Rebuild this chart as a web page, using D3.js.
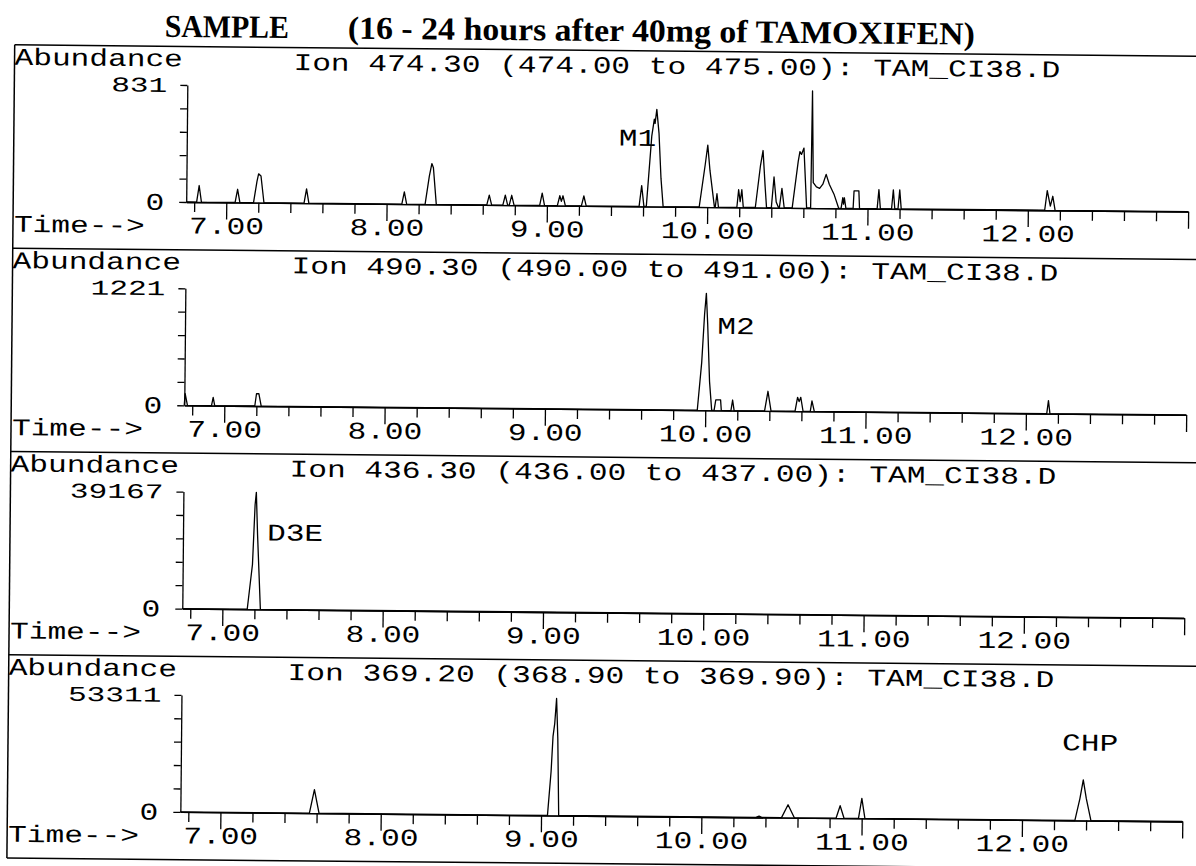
<!DOCTYPE html>
<html>
<head>
<meta charset="utf-8">
<script src="https://cdnjs.cloudflare.com/ajax/libs/d3/7.8.5/d3.min.js"></script>
<style>
body { margin: 0; background: #fff; }
</style>
</head>
<body>
<script>
var titleLeft = "SAMPLE"
var titleRight = "(16 - 24 hours after 40mg of TAMOXIFEN)"

var ionLabels = [
	"Ion 474.30 (474.00 to 475.00): TAM_CI38.D",
	"Ion 490.30 (490.00 to 491.00): TAM_CI38.D",
	"Ion 436.30 (436.00 to 437.00): TAM_CI38.D",
	"Ion 369.20 (368.90 to 369.90): TAM_CI38.D"
]
var maxAbundance = [831, 1221, 39167, 53311]
var timeTicks = [7, 8, 9, 10, 11, 12, 13]

// [time, abundance]
var ion474 = [[6.75,0],[6.815,0],[6.83,118],[6.845,0],[7.055,0],[7.07,94],[7.085,0],
	[7.17,0],[7.19,150],[7.20,205],[7.215,190],[7.235,0],[7.485,0],[7.50,101],[7.515,0],
	[8.095,0],[8.11,87],[8.125,0],[8.24,0],[8.265,200],[8.28,290],[8.29,260],[8.31,0],
	[8.625,0],[8.64,70],[8.655,0],[8.725,0],[8.74,70],[8.755,0],[8.765,0],[8.78,70],[8.795,0],
	[8.955,0],[8.97,87],[8.985,0],[9.065,0],[9.08,70],[9.09,30],[9.10,70],[9.115,0],
	[9.215,0],[9.23,70],[9.245,0],[9.575,0],[9.59,148],[9.605,0],
	[9.62,0],[9.65,500],[9.665,620],[9.67,590],[9.68,690],[9.695,520],[9.71,200],[9.725,0],
	[9.95,0],[9.985,300],[10.00,440],[10.015,260],[10.045,0],[10.05,0],[10.06,95],[10.07,0],
	[10.185,0],[10.195,125],[10.205,40],[10.215,125],[10.225,0],
	[10.30,0],[10.33,300],[10.345,405],[10.36,150],[10.37,0],[10.40,0],[10.415,218],[10.43,40],[10.445,0],
	[10.45,0],[10.465,137],[10.48,0],[10.53,0],[10.565,330],[10.575,400],[10.585,380],[10.60,425],[10.62,0],
	[10.645,0],[10.65,831],[10.66,180],[10.68,150],[10.70,140],[10.72,170],[10.74,240],[10.76,170],[10.79,100],[10.82,0],
	[10.835,0],[10.845,75],[10.85,30],[10.855,75],[10.865,0],[10.91,0],[10.915,125],[10.945,125],[10.95,0],
	[11.06,0],[11.07,135],[11.08,0],[11.15,0],[11.16,135],[11.17,0],[11.19,0],[11.20,135],[11.21,0],
	[12.105,0],[12.12,140],[12.14,30],[12.155,100],[12.17,0],[13.0,0]]

var ion490 = [[6.75,0],[6.755,122],[6.77,0],[6.92,0],[6.93,85],[6.94,0],
	[7.19,0],[7.20,128],[7.215,128],[7.23,0],
	[9.95,0],[9.975,500],[9.99,1000],[10.00,1221],[10.01,900],[10.025,300],[10.04,0],
	[10.055,0],[10.065,110],[10.095,110],[10.10,0],[10.16,0],[10.17,110],[10.18,0],
	[10.37,0],[10.39,205],[10.41,0],[10.56,0],[10.575,145],[10.585,100],[10.595,145],[10.61,0],
	[10.655,0],[10.665,110],[10.68,0],[12.13,0],[12.14,135],[12.15,0],[13.0,0]]

var ion436 = [[6.75,0],[7.155,0],[7.185,15000],[7.198,35000],[7.205,39167],[7.215,25000],[7.237,0],[13.0,0]]

var ion369 = [[6.75,0],[7.555,0],[7.585,10700],[7.615,0],
	[9.04,0],[9.06,20000],[9.07,36000],[9.08,42000],[9.09,53311],[9.10,35000],[9.11,0],
	[10.34,0],[10.36,600],[10.38,0],[10.50,0],[10.54,5900],[10.58,0],
	[10.84,0],[10.865,5700],[10.89,0],[10.98,0],[11.00,9100],[11.02,0],
	[12.33,0],[12.36,10000],[12.38,18500],[12.40,10000],[12.43,0],[13.0,0]]

var traces = [ion474, ion490, ion436, ion369]

// peak names: panel, text, time, abundance at text baseline
var peakNames = [
	[0, "M1", 9.445, 430],
	[1, "M2", 10.07, 799],
	[2, "D3E", 7.274, 23100],
	[3, "CHP", 12.246, 31900]
]

var mono = "'Liberation Mono', 'Courier New', monospace"
var charW = 18.7
var panelStep = 203.3

var svg = d3.select("body").append("svg")
	.attr("width", 1196)
	.attr("height", 866)

svg.append("rect").attr("width", 1196).attr("height", 866).attr("fill", "white")

// the scan sits slightly rotated
var g = svg.append("g").attr("transform", "rotate(0.55 600 433)")

var x = d3.scaleLinear().domain([6.75, 13.0]).range([184, 1186])

g.append("text")
	.attr("x", 161).attr("y", 41)
	.attr("font-family", "'Liberation Serif', 'Times New Roman', serif")
	.attr("font-weight", "bold").attr("font-size", 32)
	.attr("textLength", 124).attr("lengthAdjust", "spacingAndGlyphs")
	.text(titleLeft)

g.append("text")
	.attr("x", 344).attr("y", 41)
	.attr("font-family", "'Liberation Serif', 'Times New Roman', serif")
	.attr("font-weight", "bold").attr("font-size", 32)
	.attr("textLength", 627).attr("lengthAdjust", "spacingAndGlyphs")
	.text(titleRight)

// frame
g.append("line")
	.attr("x1", 11).attr("x2", 11)
	.attr("y1", 50.5).attr("y2", 50.5 + 4 * panelStep)
	.attr("stroke", "black").attr("stroke-width", 1.5)

g.selectAll("line.divider")
	.data([0, 1, 2, 3, 4])
	.enter()
	.append("line")
	.attr("class", "divider")
	.attr("x1", 11).attr("x2", 1215)
	.attr("y1", function(d) { return 50.5 + d * panelStep })
	.attr("y2", function(d) { return 50.5 + d * panelStep })
	.attr("stroke", "black").attr("stroke-width", 1.5)

function monoText(sel, str, size) {
	sel.attr("font-family", mono)
		.attr("font-size", size || 24)
		.attr("fill", "black")
		.attr("textLength", str.length * charW)
		.attr("lengthAdjust", "spacingAndGlyphs")
		.text(str)
	return sel
}

var minorTicks = d3.range(34, 66).map(function(i) { return i / 5 }).filter(function(v) { return Math.abs(v - Math.round(v)) > 0.01 })

for(i = 0; i < traces.length; ++i) {
	var off = i * panelStep
	var max = maxAbundance[i]
	var y = d3.scaleLinear().domain([0, max]).range([206 + off, 89 + off])

	monoText(g.append("text").attr("x", 11).attr("y", 70.5 + off), "Abundance")
	monoText(g.append("text").attr("x", 290).attr("y", 73 + off), ionLabels[i])
	monoText(g.append("text").attr("x", 12).attr("y", 237.5 + off), "Time-->")

	var yAxis = g.append("g")
		.attr("transform", "translate(" + x(6.75) + ",0)")
		.call(d3.axisLeft(y)
			.tickValues(d3.range(6).map(function(k) { return max * k / 5 }))
			.tickSize(7).tickSizeOuter(0).tickFormat(""))
	yAxis.selectAll("path, line").attr("stroke", "black").attr("stroke-width", 1.3)

	monoText(g.append("text").attr("x", 164).attr("y", y(max) + 7).attr("text-anchor", "end"), String(max), 21)
	monoText(g.append("text").attr("x", 162).attr("y", y(0) + 8).attr("text-anchor", "end"), "0")

	var minorAxis = g.append("g")
		.attr("transform", "translate(0," + y(0) + ")")
		.call(d3.axisBottom(x).tickValues(minorTicks).tickSize(10).tickSizeOuter(0).tickFormat(""))
	minorAxis.selectAll("path, line").attr("stroke", "black").attr("stroke-width", 1.3)

	var majorAxis = g.append("g")
		.attr("transform", "translate(0," + y(0) + ")")
		.call(d3.axisBottom(x).tickValues(timeTicks).tickSize(17).tickSizeOuter(0)
			.tickFormat(function(d) { return d < 13 ? d.toFixed(2) : "" }))
	majorAxis.selectAll("path, line").attr("stroke", "black").attr("stroke-width", 1.3)
	majorAxis.selectAll("text").each(function(d) {
		var t = d3.select(this)
		var s = d < 13 ? d.toFixed(2) : ""
		t.attr("y", 31.5).attr("dy", null)
		if(s) monoText(t, s)
	})

	g.append("path")
		.datum(traces[i])
		.attr("d", d3.line()
			.x(function(d) { return x(d[0]) })
			.y(function(d) { return y(d[1]) }))
		.attr("fill", "none")
		.attr("stroke", "black")
		.attr("stroke-width", 1.3)
		.attr("stroke-linejoin", "round")

	peakNames.filter(function(p) { return p[0] == i }).forEach(function(p) {
		monoText(g.append("text").attr("x", x(p[2])).attr("y", y(p[3])), p[1])
	})
}
</script>
</body>
</html>
